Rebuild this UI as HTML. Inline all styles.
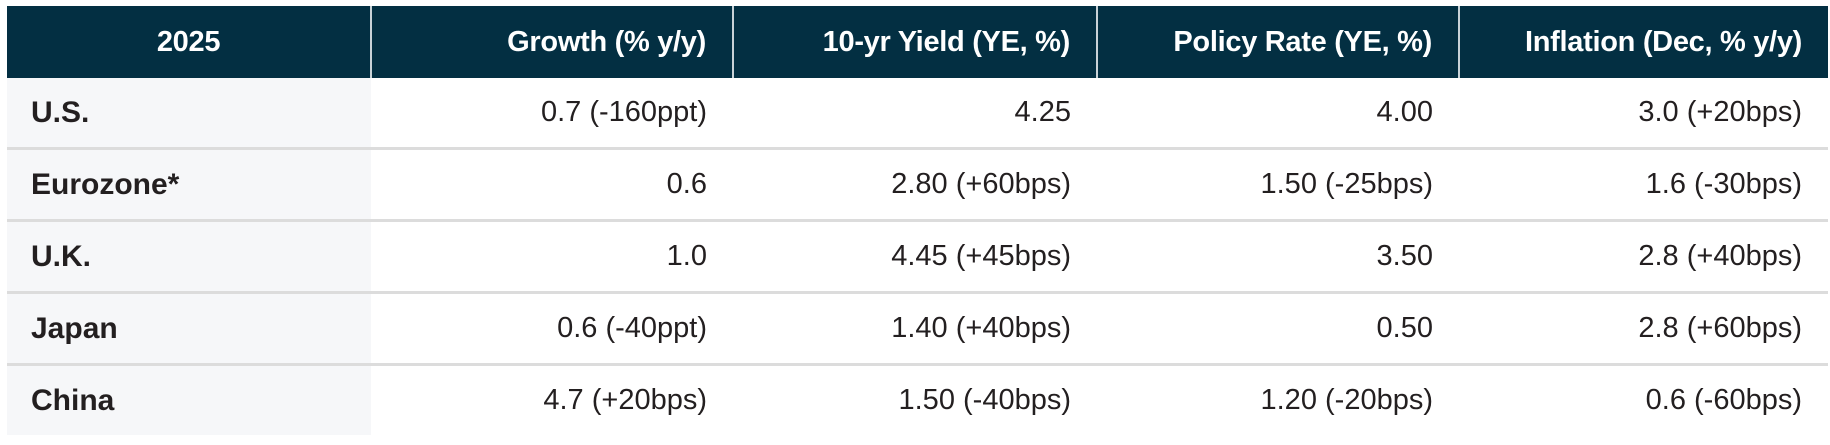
<!DOCTYPE html>
<html><head><meta charset="utf-8"><style>
body{margin:0;width:1830px;height:445px;background:#fff;font-family:"Liberation Sans",sans-serif;overflow:hidden}
table{position:absolute;left:7px;top:6px;border-collapse:collapse;table-layout:fixed;width:1821px}
th{background:#032f42;color:#fff;font-weight:bold;font-size:29px;height:72px;padding:0 26px 0 0;text-align:right;border-left:2px solid #c9d3d8;letter-spacing:-0.3px}
th:first-child{text-align:center;border-left:none;padding:0}
td{height:69px;font-size:29px;color:#231f20;text-align:right;padding:0 26px 0 0;border-bottom:3px solid #dcdcdc}
td:first-child{text-align:left;padding-left:24px;font-weight:bold;background:#f6f7f9;font-size:30px}
tr:last-child td{border-bottom:none}
</style></head><body>
<table>
<colgroup><col style="width:364px"><col style="width:362px"><col style="width:364px"><col style="width:362px"><col style="width:369px"></colgroup>
<tr><th>2025</th><th>Growth (% y/y)</th><th>10-yr Yield (YE, %)</th><th>Policy Rate (YE, %)</th><th>Inflation (Dec, % y/y)</th></tr>
<tr><td>U.S.</td><td>0.7 (-160ppt)</td><td>4.25</td><td>4.00</td><td>3.0 (+20bps)</td></tr>
<tr><td>Eurozone*</td><td>0.6</td><td>2.80 (+60bps)</td><td>1.50 (-25bps)</td><td>1.6 (-30bps)</td></tr>
<tr><td>U.K.</td><td>1.0</td><td>4.45 (+45bps)</td><td>3.50</td><td>2.8 (+40bps)</td></tr>
<tr><td>Japan</td><td>0.6 (-40ppt)</td><td>1.40 (+40bps)</td><td>0.50</td><td>2.8 (+60bps)</td></tr>
<tr><td>China</td><td>4.7 (+20bps)</td><td>1.50 (-40bps)</td><td>1.20 (-20bps)</td><td>0.6 (-60bps)</td></tr>
</table>
</body></html>
